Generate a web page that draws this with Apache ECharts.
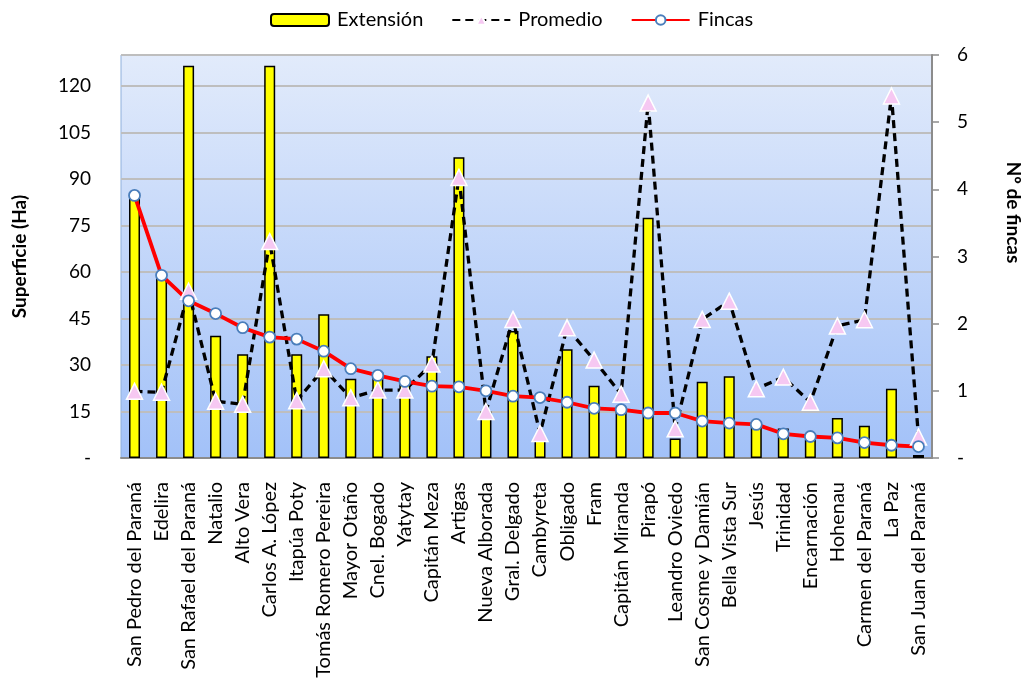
<!DOCTYPE html>
<html>
<head>
<meta charset="utf-8">
<script src="https://cdn.jsdelivr.net/npm/echarts@6/dist/echarts.min.js"></script>
<style>
html,body{margin:0;padding:0;background:#fff;}
#chart{width:1024px;height:687px;}
</style>
</head>
<body>
<div id="chart"></div>
<script>
const categories = ['San Pedro del Paraná','Edelira','San Rafael del Paraná','Natalio','Alto Vera','Carlos A. López','Itapúa Poty','Tomás Romero Pereira','Mayor Otaño','Cnel. Bogado','Yatytay','Capitán Meza','Artigas','Nueva Alborada','Gral. Delgado','Cambyreta','Obligado','Fram','Capitán Miranda','Pirapó','Leandro Oviedo','San Cosme y Damián','Bella Vista Sur','Jesús','Trinidad','Encarnación','Hohenau','Carmen del Paraná','La Paz','San Juan del Paraná'];
const extension = [85, 58, 126.5, 39.4, 33.5, 126.5, 33.5, 46.4, 25.6, 27.6, 24.5, 32.8, 97, 15, 41, 7, 35.1, 23.3, 15, 77.5, 6.3, 24.6, 26.4, 11, 9.5, 5.9, 12.9, 10.4, 22.3, 1];
const promedio = [21.5, 21.2, 53.8, 18.3, 17.3, 69.8, 18.5, 28.8, 19.4, 21.9, 21.9, 30.3, 90.5, 15, 44.7, 7.9, 42, 31.6, 20.6, 114.5, 9.4, 44.7, 50.6, 22.3, 26.1, 18, 42.6, 44.6, 116.8, 6.8];
const fincas = [3.91, 2.72, 2.34, 2.15, 1.94, 1.80, 1.77, 1.59, 1.33, 1.23, 1.14, 1.07, 1.06, 1.0, 0.92, 0.90, 0.83, 0.74, 0.72, 0.67, 0.67, 0.55, 0.52, 0.50, 0.36, 0.32, 0.30, 0.23, 0.19, 0.17];

const FONT = 'Lato';
const chart = echarts.init(document.getElementById('chart'));
chart.setOption({
  animation: false,
  textStyle: { fontFamily: FONT },
  legend: {
    left: 265, top: 5,
    itemWidth: 58, itemHeight: 12, itemGap: 28,
    textStyle: { fontFamily: FONT, fontSize: 20, color: '#000', padding: [0,0,0,3] },
    data: ['Extensión', 'Promedio', 'Fincas']
  },
  grid: {
    left: 121, right: 92, top: 55, bottom: 229,
    outerBoundsMode: 'none',
    containLabel: false,
    show: true,
    borderColor: '#8FB0DC', borderWidth: 1,
    backgroundColor: {
      type: 'linear', x: 0, y: 0, x2: 0, y2: 1,
      colorStops: [{ offset: 0, color: '#E2EBFB' }, { offset: 1, color: '#A2C1F8' }]
    }
  },
  xAxis: {
    type: 'category', data: categories,
    axisLine: { show: true, lineStyle: { color: '#8C8C8C', width: 2 } },
    axisTick: { show: false },
    axisLabel: { interval: 0, rotate: 90, margin: 24, fontSize: 20, color: '#000', fontFamily: FONT }
  },
  yAxis: [
    {
      type: 'value', min: 0, max: 130, interval: 15,
      name: 'Superficie (Ha)', nameLocation: 'middle', nameGap: 92, nameRotate: 90,
      nameTextStyle: { fontFamily: FONT, fontSize: 19, fontWeight: 'bold', color: '#000' },
      axisLine: { show: false }, axisTick: { show: false },
      axisLabel: { showMaxLabel: false, margin: 30, fontSize: 19, color: '#000', fontFamily: FONT,
        formatter: v => v === 0 ? '-' : String(v) },
      splitLine: { show: true, lineStyle: { color: '#BEBEBE', width: 1.8 } }
    },
    {
      type: 'value', min: 0, max: 6, interval: 1,
      name: 'Nº de fincas', nameLocation: 'middle', nameGap: 72, nameRotate: -90,
      nameTextStyle: { fontFamily: FONT, fontSize: 19, fontWeight: 'bold', color: '#000', padding: [0, 88, 0, 0] },
      axisLine: { show: true, lineStyle: { color: '#8C8C8C', width: 2 } },
      axisTick: { show: true, length: 7, lineStyle: { color: '#8C8C8C', width: 1.5 } },
      axisLabel: { margin: 25, fontSize: 19, color: '#000', fontFamily: FONT,
        formatter: v => v === 0 ? '-' : String(v) },
      splitLine: { show: false }
    }
  ],
  series: [
    {
      name: 'Extensión', type: 'bar', data: extension, yAxisIndex: 0, barWidth: 11,
      itemStyle: { color: '#FFFF00', borderColor: '#000', borderWidth: 1.5 }
    },
    {
      name: 'Promedio', type: 'line', data: promedio, yAxisIndex: 0,
      symbol: 'triangle', symbolSize: 16, showAllSymbol: true,
      lineStyle: { color: '#000', width: 3.3, type: [8, 5] },
      itemStyle: { color: '#F6C8F2', borderColor: '#FFFFFF', borderWidth: 1.5 }
    },
    {
      name: 'Fincas', type: 'line', data: fincas, yAxisIndex: 1,
      symbol: 'circle', symbolSize: 11, showAllSymbol: true,
      lineStyle: { color: '#FF0000', width: 3.8 },
      itemStyle: { color: '#FFFFFF', borderColor: '#4A7EBB', borderWidth: 1.8 }
    }
  ]
});
</script>
</body>
</html>
